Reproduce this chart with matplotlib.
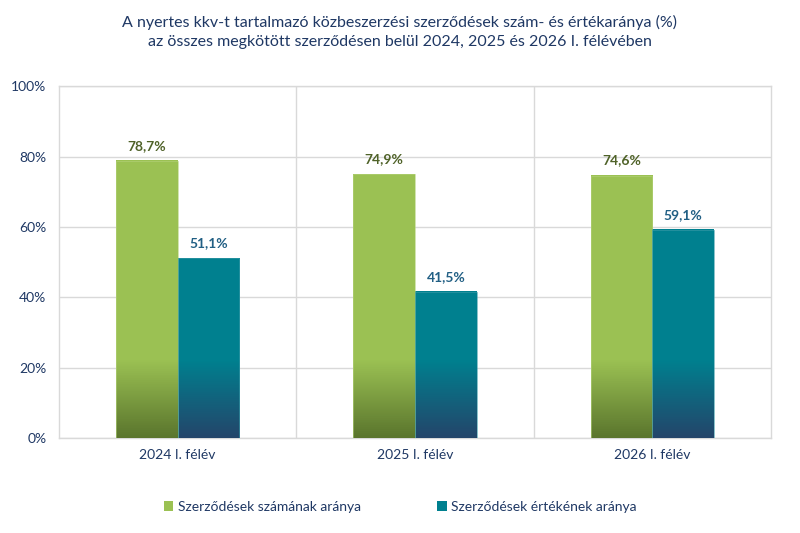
import matplotlib
matplotlib.use("Agg")
import matplotlib.pyplot as plt
import numpy as np
from matplotlib.colors import to_rgb
from matplotlib.patches import Patch

plt.rcParams['font.family'] = ['Lato', 'DejaVu Sans']

categories = ["2024 I. félév", "2025 I. félév", "2026 I. félév"]
count_share = [78.7, 74.9, 74.6]
value_share = [51.1, 41.5, 59.1]
series_names = ["Szerződések számának aránya", "Szerződések értékének aránya"]
yticks = [0, 20, 40, 60, 80, 100]
title = ("A nyertes kkv-t tartalmazó közbeszerzési szerződések szám- és értékaránya (%)\n"
         "az összes megkötött szerződésen belül 2024, 2025 és 2026 I. félévében")

navy = "#1F3864"
green_top, green_bot = "#9BC153", "#5A752D"
teal_top, teal_bot = "#00808F", "#24456A"
green_edge, teal_edge = "#B3D27A", "#3A9AA8"
green_lbl, teal_lbl = "#4F6228", "#215F84"
grid_c = "#D9D9D9"

fig = plt.figure(figsize=(8, 5.33), dpi=100)
ax = fig.add_axes([0.07375, 0.178, 0.890, 0.6604])

x = np.arange(len(categories))
w = 0.26

def grad_bars(xs, vals, top, bot, edge):
    bars = ax.bar(xs, vals, w, color="none", edgecolor="none", zorder=3)
    t = np.array(to_rgb(top)); b = np.array(to_rgb(bot))
    for bar in bars:
        x0, h, bw = bar.get_x(), bar.get_height(), bar.get_width()
        ys = np.linspace(0, h, 400)
        frac = np.clip(ys / 22.0, 0, 1)[:, None]
        cols = b + (t - b) * frac
        img = cols[:, None, :]
        ax.imshow(img, extent=(x0, x0 + bw, 0, h), origin="lower", aspect="auto",
                  zorder=3, interpolation="nearest")
        ax.add_patch(plt.Rectangle((x0, 0), bw, h, fill=False,
                                   edgecolor=edge, lw=0.6, alpha=0.7, zorder=4))
    return bars

b1 = grad_bars(x - w / 2, count_share, green_top, green_bot, green_edge)
b2 = grad_bars(x + w / 2, value_share, teal_top, teal_bot, teal_edge)

for bar, v in zip(b1, count_share):
    ax.annotate(f"{v:.1f}%".replace(".", ","), (bar.get_x() + bar.get_width() / 2, v),
                xytext=(0, 6.5), textcoords="offset points", ha="center", va="bottom",
                fontsize=10, fontweight="bold", color=green_lbl, zorder=5)
for bar, v in zip(b2, value_share):
    ax.annotate(f"{v:.1f}%".replace(".", ","), (bar.get_x() + bar.get_width() / 2, v),
                xytext=(0, 6.5), textcoords="offset points", ha="center", va="bottom",
                fontsize=10, fontweight="bold", color=teal_lbl, zorder=5)

ax.set_xlim(-0.5, len(categories) - 0.5)
ax.set_ylim(0, 100)
ax.set_yticks(yticks)
ax.set_yticklabels([f"{t}%" for t in yticks], color=navy, fontsize=10)
ax.set_xticks(x)
ax.set_xticklabels(categories, color=navy, fontsize=10)
ax.tick_params(length=0, pad=8)
ax.tick_params(axis="y", pad=9)
ax.yaxis.grid(True, color=grid_c, lw=1, zorder=0)
for b in np.arange(0.5, len(categories) - 0.5, 1):
    ax.axvline(b, color=grid_c, lw=1, zorder=0)
for s in ax.spines.values():
    s.set_color(grid_c)
    s.set_linewidth(1)

fig.text(0.5, 1 - 32 / 533, title, ha="center", va="center", color=navy,
         fontsize=11.5, linespacing=1.5)

handles = [Patch(facecolor=green_top, edgecolor="none"),
           Patch(facecolor=teal_top, edgecolor="none")]
fig.legend(handles, series_names, loc="center", bbox_to_anchor=(0.5, 1 - 507 / 533),
           ncol=2, frameon=False, fontsize=10, handlelength=0.7, handleheight=0.7,
           handletextpad=0.3, columnspacing=5.5, labelcolor=navy)

fig.savefig("out.png", dpi=100)
